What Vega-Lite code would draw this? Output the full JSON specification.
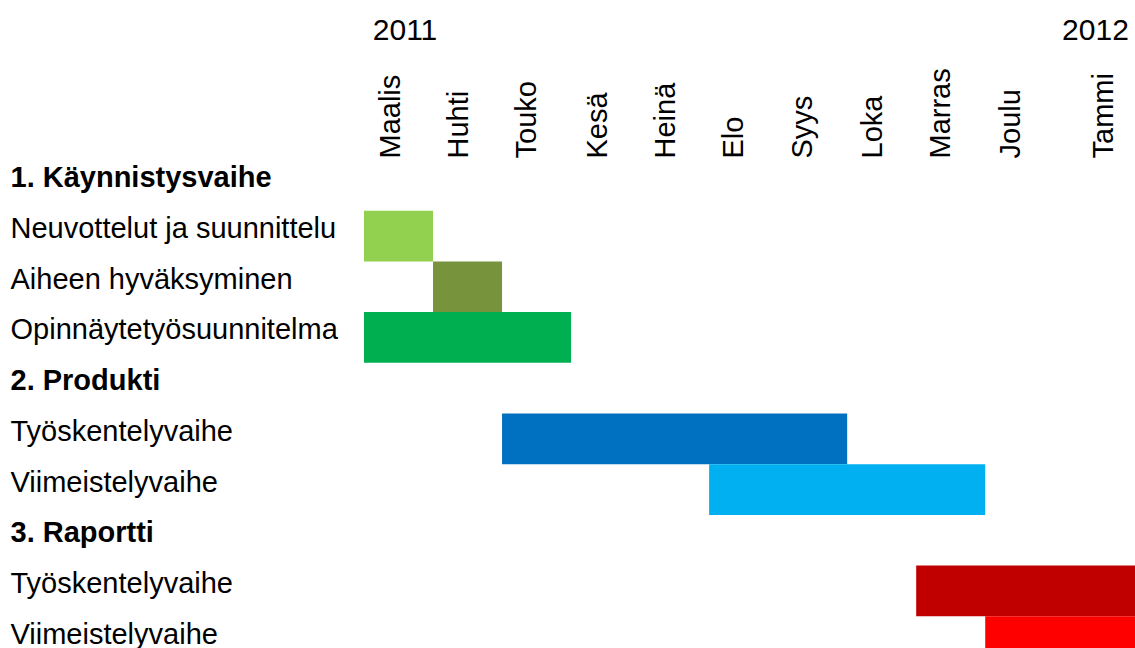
{
  "$schema": "https://vega.github.io/schema/vega-lite/v6.json",
  "width": 771,
  "height": 507,
  "autosize": {"type": "none"},
  "padding": {"left": 364, "top": 160, "right": 0, "bottom": 0},
  "background": "white",
  "config": {
    "view": {"stroke": null},
    "font": "Liberation Sans",
    "axis": {
      "labelFont": "Liberation Sans",
      "labelFontSize": 29,
      "labelColor": "#000000",
      "domain": false,
      "ticks": false,
      "tickSize": 0,
      "grid": false,
      "title": null
    }
  },
  "data": {
    "values": [
      {"task": "02|Neuvottelut ja suunnittelu", "start": 0, "end": 1},
      {"task": "03|Aiheen hyväksyminen", "start": 1, "end": 2},
      {"task": "04|Opinnäytetyösuunnitelma", "start": 0, "end": 3},
      {"task": "06|Työskentelyvaihe", "start": 2, "end": 7},
      {"task": "07|Viimeistelyvaihe", "start": 5, "end": 9},
      {"task": "09|Työskentelyvaihe", "start": 8, "end": 11.3},
      {"task": "10|Viimeistelyvaihe", "start": 9, "end": 11.3}
    ]
  },
  "encoding": {
    "y": {
      "field": "task",
      "type": "nominal",
      "scale": {
        "domain": [
          "01|1. Käynnistysvaihe",
          "02|Neuvottelut ja suunnittelu",
          "03|Aiheen hyväksyminen",
          "04|Opinnäytetyösuunnitelma",
          "05|2. Produkti",
          "06|Työskentelyvaihe",
          "07|Viimeistelyvaihe",
          "08|3. Raportti",
          "09|Työskentelyvaihe",
          "10|Viimeistelyvaihe"
        ],
        "paddingInner": 0,
        "paddingOuter": 0
      },
      "axis": {
        "orient": "left",
        "labelAlign": "left",
        "labelPadding": 354,
        "labelLimit": 600,
        "labelBaseline": "alphabetic",
        "labelOffset": 2,
        "labelOverlap": false,
        "labelExpr": "split(datum.value, '|')[1]",
        "labelFontWeight": {"condition": {"test": "indexof(datum.value, '.') > 0", "value": "bold"}, "value": "normal"}
      }
    },
    "color": {
      "field": "task",
      "type": "nominal",
      "legend": null,
      "scale": {
        "domain": [
          "02|Neuvottelut ja suunnittelu",
          "03|Aiheen hyväksyminen",
          "04|Opinnäytetyösuunnitelma",
          "06|Työskentelyvaihe",
          "07|Viimeistelyvaihe",
          "09|Työskentelyvaihe",
          "10|Viimeistelyvaihe"
        ],
        "range": ["#92D050", "#77933C", "#00B050", "#0070C0", "#00B0F0", "#C00000", "#FF0000"]
      }
    }
  },
  "layer": [
    {
      "mark": {"type": "bar", "clip": true, "cornerRadius": 0},
      "encoding": {
        "x": {
          "field": "start",
          "type": "quantitative",
          "scale": {"domain": [0, 11.17], "nice": false, "zero": false},
          "axis": {
            "orient": "top",
            "values": [0.377, 1.37, 2.36, 3.38, 4.37, 5.36, 6.36, 7.36, 8.35, 9.36, 10.72],
            "labelExpr": "['Maalis','Huhti','Touko','Kesä','Heinä','Elo','Syys','Loka','Marras','Joulu','Tammi'][floor(datum.value)]",
            "labelAngle": -90,
            "labelAlign": "left",
            "labelBaseline": "middle",
            "labelPadding": 2,
            "labelFlush": false,
            "labelOverlap": false
          }
        },
        "x2": {"field": "end"}
      }
    },
    {
      "mark": {"type": "bar", "clip": true, "opacity": 0},
      "encoding": {
        "x": {
          "field": "start",
          "type": "quantitative",
          "scale": {"domain": [0, 11.17], "nice": false, "zero": false},
          "axis": {
            "orient": "top",
            "values": [0.587, 10.59],
            "labelExpr": "datum.value < 5 ? '2011' : '2012'",
            "labelFontSize": 30,
            "labelAngle": 0,
            "labelAlign": "center",
            "labelBaseline": "alphabetic",
            "labelPadding": 121,
            "labelFlush": false,
            "labelOverlap": false
          }
        },
        "x2": {"field": "end"}
      }
    }
  ],
  "resolve": {"axis": {"x": "independent"}}
}
